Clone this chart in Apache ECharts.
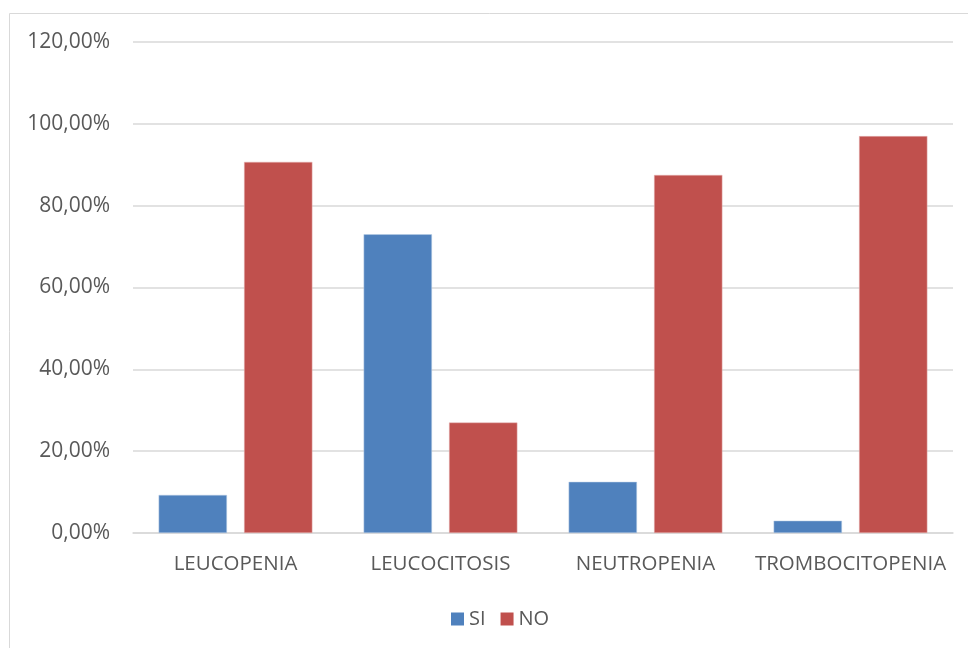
<!DOCTYPE html>
<html>
<head>
<meta charset="utf-8">
<script src="https://cdn.jsdelivr.net/npm/echarts@6/dist/echarts.min.js"></script>
<style>
  html, body { margin: 0; padding: 0; background: #fff; }
  #chart { width: 968px; height: 648px; }
</style>
</head>
<body>
<div id="chart"></div>
<script>
// categorías y valores (porcentaje)
var categories = ['LEUCOPENIA', 'LEUCOCITOSIS', 'NEUTROPENIA', 'TROMBOCITOPENIA'];
var siValues = [9.3, 73.0, 12.5, 3.0];
var noValues = [90.7, 27.0, 87.5, 97.0];
var seriesNames = ['SI', 'NO'];

var chartDom = document.getElementById('chart');
var myChart = echarts.init(chartDom);
var option;

function pct(v) {
    return v.toFixed(2).replace('.', ',') + '%';
}

option = {
    animation: false,
    textStyle: { fontFamily: 'Open Sans' },
    graphic: [{
        type: 'rect',
        shape: { x: 9.5, y: 13.5, width: 980, height: 660 },
        style: { fill: 'none', stroke: '#d9d9d9', lineWidth: 1 },
        silent: true
    }],
    legend: {
        data: seriesNames,
        bottom: 14,
        left: 446,
        itemWidth: 13,
        itemHeight: 13,
        itemGap: 15,
        icon: 'rect',
        itemStyle: { borderWidth: 0 },
        textStyle: { fontSize: 20, color: '#595959', padding: [0, 0, 0, 0] }
    },
    grid: { left: 133, right: 15, top: 42, bottom: 115 },
    xAxis: {
        type: 'category',
        data: categories,
        axisLine: { lineStyle: { color: '#d9d9d9', width: 1.5 } },
        axisTick: { show: false },
        axisLabel: { interval: 0, fontSize: 20.5, color: '#595959', margin: 21 }
    },
    yAxis: {
        type: 'value',
        min: 0,
        max: 120,
        interval: 20,
        axisLine: { show: false },
        axisTick: { show: false },
        splitLine: { lineStyle: { color: '#d9d9d9', width: 1.5 } },
        axisLabel: {
            fontSize: 21,
            color: '#595959',
            margin: 23,
            formatter: function (v) { return pct(v); }
        }
    },
    series: [
        {
            name: seriesNames[0],
            type: 'bar',
            data: siValues,
            barGap: '25%',
            barCategoryGap: '25%',
            itemStyle: { color: '#4f81bd', borderColor: '#b9cde5', borderWidth: 0.5 }
        },
        {
            name: seriesNames[1],
            type: 'bar',
            data: noValues,
            barGap: '25%',
            barCategoryGap: '25%',
            itemStyle: { color: '#c0504d', borderColor: '#e6b9b8', borderWidth: 0.5 }
        }
    ]
};

option && myChart.setOption(option);
</script>
</body>
</html>
